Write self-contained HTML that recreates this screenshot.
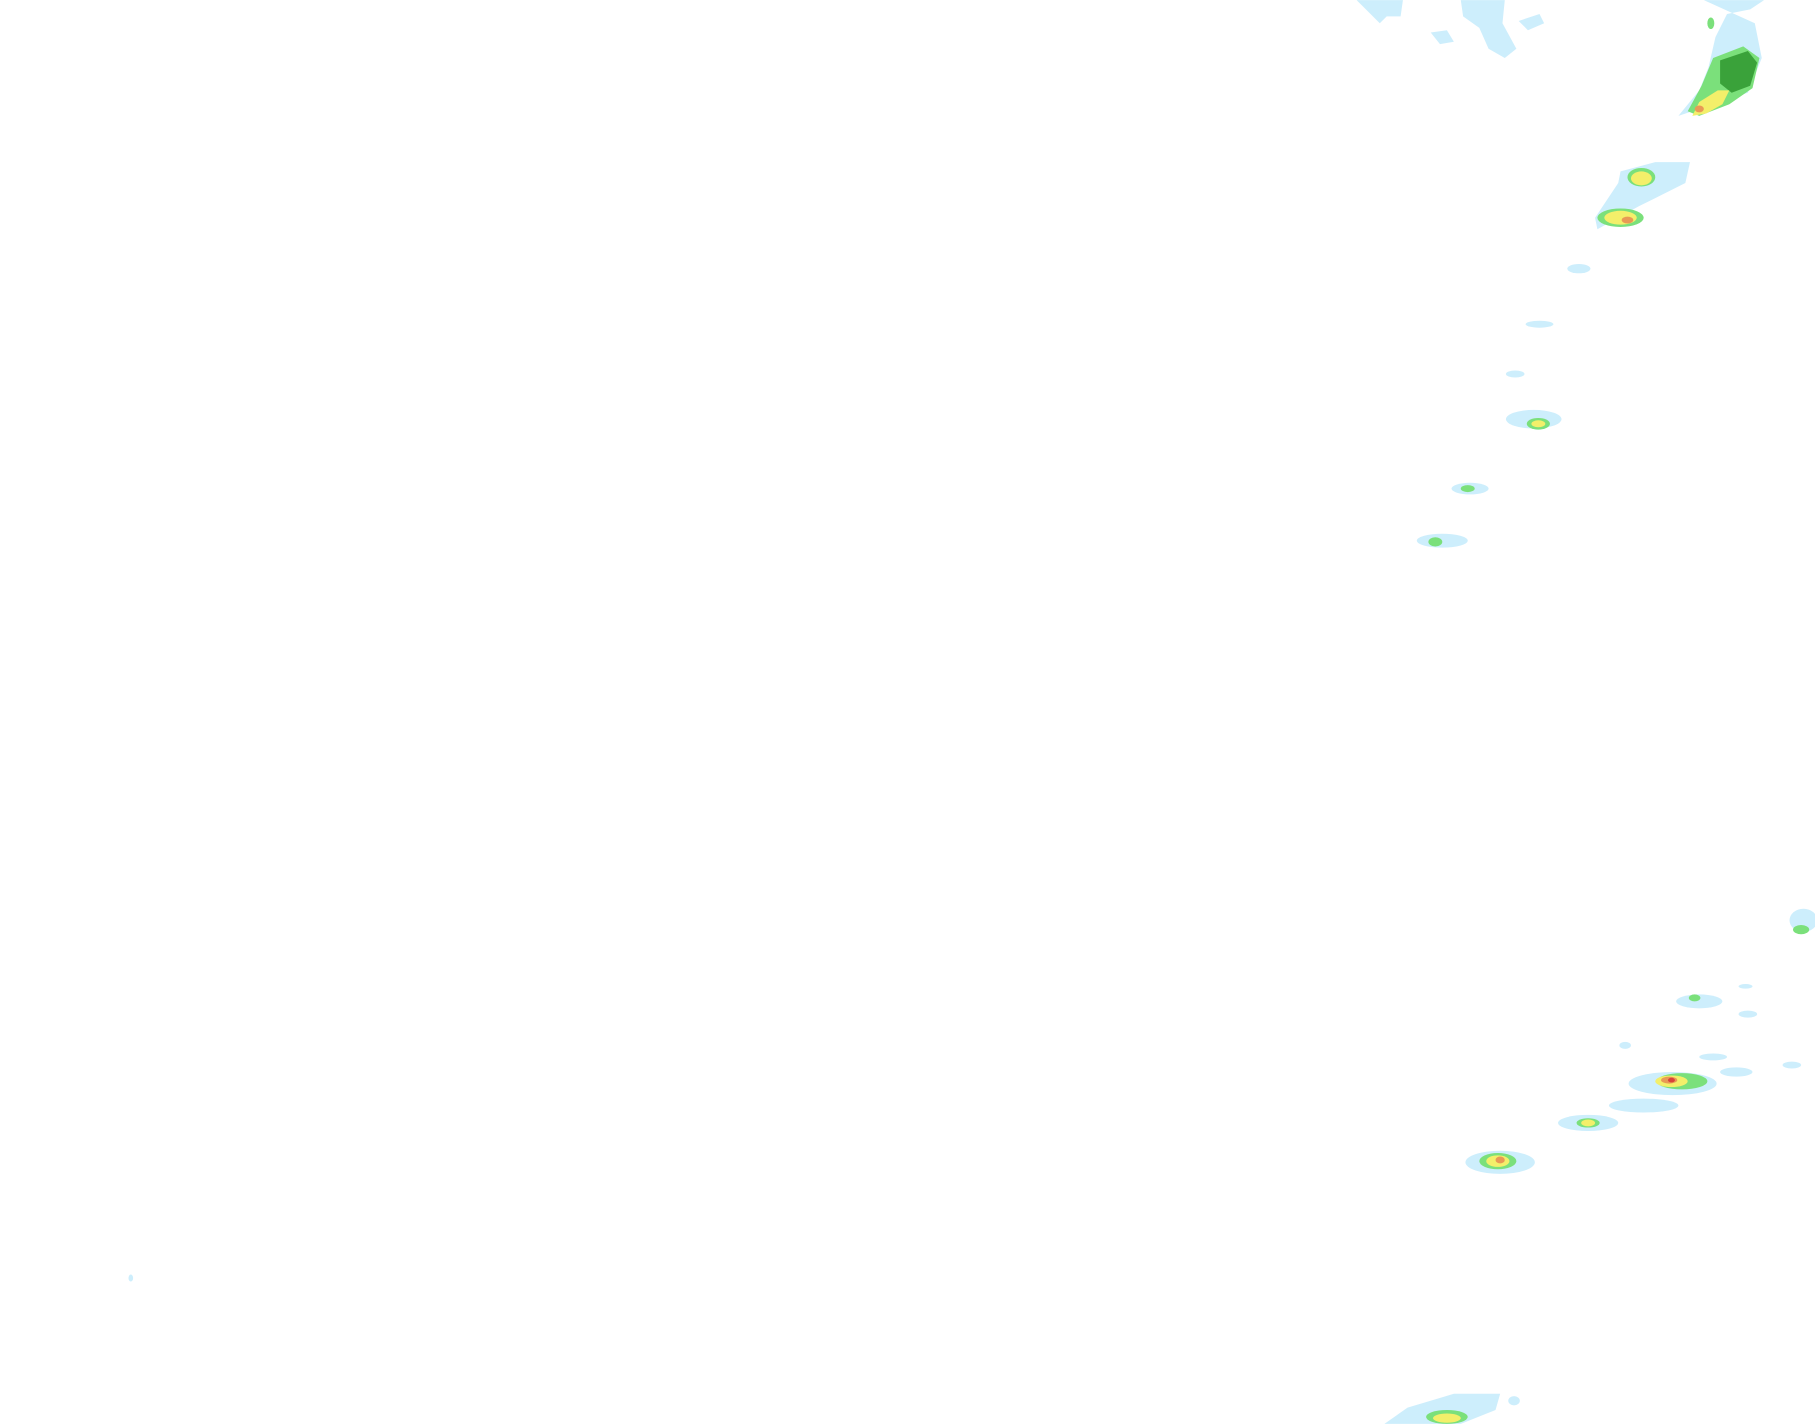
<!DOCTYPE html>
<html><head><meta charset="utf-8"><style>html,body{margin:0;padding:0;background:#fff}svg{display:block}</style></head>
<body>
<svg width="1815" height="1424" viewBox="0 0 1568 1230" xmlns="http://www.w3.org/2000/svg">
<rect width="1568" height="1230" fill="#fff"/>
<g fill="#cdeefc">
<path d="M1172 0h40l-2 14h-12l-6 6-8-8z"/>
<path d="M1262 0h38l-2 20 12 22-10 8-14-8-8-18-14-10z"/>
<path d="M1312 18l18-6 4 8-14 6z"/>
<path d="M1236 28l14-2 6 10-12 2z"/>
<path d="M1472 0h52l-12 8-20 4-10 20-6 26-8 20-18 22 60-20 12-30-6-30z"/>
<path d="M1400 148l30-8 30 0-4 18-40 20-36 20-2-10 20-30z"/>
<ellipse cx="1364" cy="232" rx="10" ry="4"/>
<ellipse cx="1330" cy="280" rx="12" ry="3"/>
<ellipse cx="1309" cy="323" rx="8" ry="3"/>
<ellipse cx="1325" cy="362" rx="24" ry="8"/>
<ellipse cx="1270" cy="422" rx="16" ry="5"/>
<ellipse cx="1246" cy="467" rx="22" ry="6"/>
<ellipse cx="1558" cy="795" rx="12" ry="10"/>
<ellipse cx="1468" cy="865" rx="20" ry="6"/>
<ellipse cx="1508" cy="852" rx="6" ry="2"/>
<ellipse cx="1510" cy="876" rx="8" ry="3"/>
<ellipse cx="1480" cy="913" rx="12" ry="3"/>
<ellipse cx="1500" cy="926" rx="14" ry="4"/>
<ellipse cx="1445" cy="936" rx="38" ry="10"/>
<ellipse cx="1420" cy="955" rx="30" ry="6"/>
<ellipse cx="1372" cy="970" rx="26" ry="7"/>
<ellipse cx="1296" cy="1004" rx="30" ry="10"/>
<ellipse cx="1404" cy="903" rx="5" ry="3"/>
<ellipse cx="1548" cy="920" rx="8" ry="3"/>
<path d="M1196 1230l20-14 40-12 40 0-4 14-30 12z"/>
<ellipse cx="1308" cy="1210" rx="5" ry="4"/>
<ellipse cx="113" cy="1104" rx="2" ry="3"/>
</g>
<g fill="#7be07b">
<path d="M1480 50l26-10 14 10-6 26-20 14-26 10-10-4 12-22z"/>
<ellipse cx="1418" cy="153" rx="12" ry="8"/>
<ellipse cx="1400" cy="188" rx="20" ry="8"/>
<ellipse cx="1329" cy="366" rx="10" ry="5"/>
<ellipse cx="1240" cy="468" rx="6" ry="4"/>
<ellipse cx="1268" cy="422" rx="6" ry="3"/>
<ellipse cx="1453" cy="934" rx="22" ry="7"/>
<ellipse cx="1372" cy="970" rx="10" ry="4"/>
<ellipse cx="1294" cy="1003" rx="16" ry="7"/>
<ellipse cx="1556" cy="803" rx="7" ry="4"/>
<ellipse cx="1250" cy="1224" rx="18" ry="6"/>
<ellipse cx="1464" cy="862" rx="5" ry="3"/>
<ellipse cx="1478" cy="20" rx="3" ry="5"/>
</g>
<path fill="#3aa23a" d="M1486 52l24-8 8 10-6 20-16 6-10-8z"/>
<g fill="#f3ef6a">
<path d="M1462 100l6-12 16-10 10 0-6 12-14 8z"/>
<ellipse cx="1418" cy="154" rx="9" ry="6"/>
<ellipse cx="1400" cy="188" rx="14" ry="6"/>
<ellipse cx="1329" cy="366" rx="6" ry="3"/>
<ellipse cx="1444" cy="934" rx="14" ry="5"/>
<ellipse cx="1294" cy="1003" rx="10" ry="5"/>
<ellipse cx="1372" cy="970" rx="6" ry="3"/>
<ellipse cx="1250" cy="1225" rx="12" ry="4"/>
</g>
<g fill="#e89a55">
<ellipse cx="1406" cy="190" rx="5" ry="3"/>
<ellipse cx="1296" cy="1002" rx="4" ry="3"/>
<ellipse cx="1442" cy="933" rx="7" ry="3"/>
<ellipse cx="1468" cy="94" rx="4" ry="3"/>
</g>
<ellipse cx="1444" cy="933" rx="3" ry="2" fill="#d8433a"/>
</svg>
</body></html>
